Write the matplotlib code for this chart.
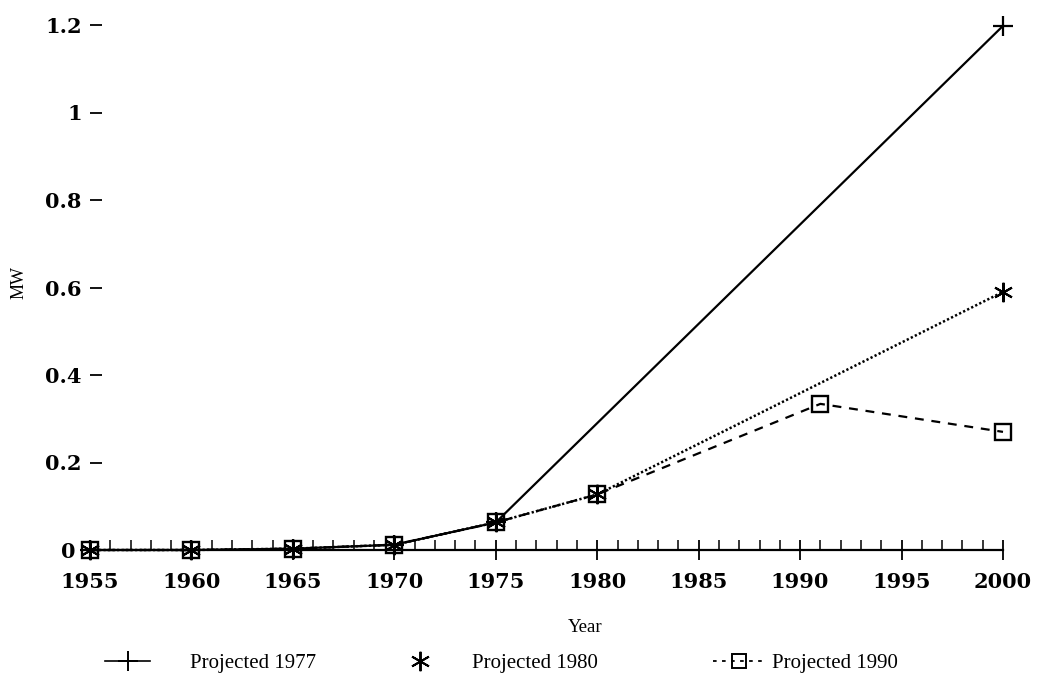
import matplotlib
matplotlib.use("Agg")
import matplotlib.pyplot as plt
from matplotlib.lines import Line2D
from matplotlib.ticker import MultipleLocator, FixedLocator
from matplotlib.transforms import ScaledTranslation

# ---- data ----
years_1977 = [1955, 1960, 1965, 1970, 1975, 2000]
mw_1977 = [0.0, 0.0, 0.003, 0.012, 0.063, 1.198]

years_1980 = [1955, 1960, 1965, 1970, 1975, 1980, 2000]
mw_1980 = [0.0, 0.0, 0.003, 0.012, 0.063, 0.127, 0.59]

years_1990 = [1955, 1960, 1965, 1970, 1975, 1980, 1991, 2000]
mw_1990 = [0.0, 0.0, 0.003, 0.012, 0.063, 0.127, 0.334, 0.27]

x_ticks = [1955, 1960, 1965, 1970, 1975, 1980, 1985, 1990, 1995, 2000]
y_ticks = [0, 0.2, 0.4, 0.6, 0.8, 1.0, 1.2]
y_tick_labels = ["0", "0.2", "0.4", "0.6", "0.8", "1", "1.2"]
series_labels = ["Projected 1977", "Projected 1980", "Projected 1990"]

W, H = 1045, 683
fig = plt.figure(figsize=(W / 100, H / 100), dpi=100)
ax = fig.add_axes([90 / W, 1 - 550 / H, 913 / W, 525 / H])

asterisk = (6, 2, 0)
ax.plot(years_1977, mw_1977, color="black", lw=1.6, ls="-", marker="+",
        markersize=15, markeredgewidth=1.6, clip_on=False, zorder=3)
ax.plot(years_1980, mw_1980, color="black", lw=1.8, ls=(0, (0.9, 0.9)), marker=asterisk,
        markersize=14, markeredgewidth=1.5, clip_on=False, zorder=3)
ax.plot(years_1990, mw_1990, color="black", lw=1.6, ls=(0, (4, 3.5)), marker="s",
        markersize=11, markeredgewidth=1.7, markerfacecolor="none", clip_on=False, zorder=3)

ax.set_xlim(1955, 2000)
ax.set_ylim(0, 1.2)

for s in ["top", "right", "left"]:
    ax.spines[s].set_visible(False)
ax.spines["bottom"].set_position(("data", 0))
ax.spines["bottom"].set_bounds(1955, 2000)
ax.spines["bottom"].set_linewidth(1.6)

ax.xaxis.set_major_locator(FixedLocator(x_ticks))
ax.xaxis.set_minor_locator(MultipleLocator(1))
ax.tick_params(axis="x", which="major", direction="inout", length=15, width=1.3, pad=8)
ax.tick_params(axis="x", which="minor", direction="in", length=7, width=1.1)

ax.set_yticks(y_ticks)
ax.set_yticklabels(y_tick_labels)
ax.tick_params(axis="y", which="major", direction="in", length=8.5, width=1.3, pad=6)

for lab in ax.get_xticklabels() + ax.get_yticklabels():
    lab.set_fontfamily("DejaVu Serif")
    lab.set_fontweight("bold")
    lab.set_fontsize(15)

# nudge the "0" label left, as in the original
zero_lab = ax.get_yticklabels()[0]
zero_lab.set_transform(zero_lab.get_transform() + ScaledTranslation(-6 / 100, 0, fig.dpi_scale_trans))

fig.text(19 / W, 1 - 282 / H, "MW", rotation=90, ha="center", va="center",
         fontfamily="Liberation Serif", fontsize=13)
fig.text(585 / W, 1 - 627 / H, "Year", ha="center", va="center",
         fontfamily="Liberation Serif", fontsize=13.5)

leg_font = {"family": "Liberation Serif", "size": 15}
h1 = Line2D([], [], color="black", lw=1.2, marker="+", markersize=15, markeredgewidth=1.4)
h2 = Line2D([], [], color="black", ls="none", marker=asterisk, markersize=14, markeredgewidth=1.4)
h3 = Line2D([], [], color="black", lw=1.3, ls=(0, (2, 3)), marker="s", markersize=10,
            markerfacecolor="none", markeredgewidth=1.4)

common = dict(frameon=False, loc="center left", borderpad=0, borderaxespad=0,
              prop=leg_font, numpoints=1)
fig.legend([h1], [series_labels[0]], bbox_to_anchor=(105 / W, 1 - 663 / H),
           handlelength=2.16, handletextpad=1.9, **common)
fig.legend([h2], [series_labels[1]], bbox_to_anchor=(410 / W, 1 - 663 / H),
           handlelength=1.0, handletextpad=2.0, **common)
fig.legend([h3], [series_labels[2]], bbox_to_anchor=(713 / W, 1 - 663 / H),
           handlelength=2.5, handletextpad=0.35, **common)

fig.savefig("out.png", dpi=100)
